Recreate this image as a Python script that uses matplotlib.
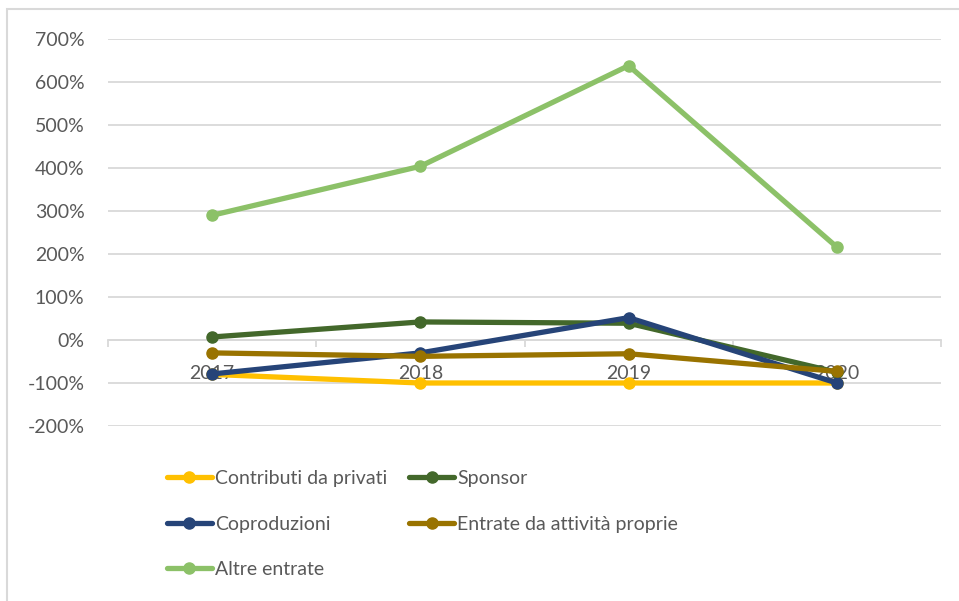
import matplotlib
matplotlib.use("Agg")
import matplotlib.pyplot as plt
from matplotlib.ticker import FuncFormatter, FixedLocator
from matplotlib.patches import Rectangle

years = ["2017", "2018", "2019", "2020"]
contributi_privati = [-80, -100, -100, -100]
sponsor = [7, 42, 39, -75]
coproduzioni = [-79, -30, 52, -100]
entrate_attivita = [-30, -38, -32, -73]
altre_entrate = [290, 404, 638, 216]

series_names = ["Contributi da privati", "Sponsor", "Coproduzioni",
                "Entrate da attività proprie", "Altre entrate"]
series_values = [contributi_privati, sponsor, coproduzioni, entrate_attivita, altre_entrate]
colors = ["#FFC000", "#43682B", "#264478", "#997300", "#8CC168"]
yticks = [-200, -100, 0, 100, 200, 300, 400, 500, 600, 700]

plt.rcParams['font.family'] = ['Lato', 'DejaVu Sans']
text_color = "#595959"
grid_color = "#D9D9D9"

fig = plt.figure(figsize=(9.59, 6.01), dpi=100)
fig.patches.append(Rectangle((7/959, -0.1), 1.2, 1 - 9/601 + 0.1, transform=fig.transFigure,
                             fill=False, edgecolor=grid_color, linewidth=1.5))
ax = fig.add_axes([108/959, 1 - 426/601, (941-108)/959, (426-39)/601])

x = list(range(len(years)))
lines = []
for name, vals, c in zip(series_names, series_values, colors):
    ln, = ax.plot(x, vals, color=c, linewidth=3.8, marker='o', markersize=8,
                  solid_capstyle='round', label=name, zorder=3)
    lines.append(ln)

ax.set_xlim(-0.5, 3.5)
ax.set_ylim(-200, 700)
ax.set_yticks(yticks)
ax.yaxis.set_major_formatter(FuncFormatter(lambda v, p: f"{int(v)}%"))
ax.grid(axis='y', color=grid_color, linewidth=1.3, zorder=0)
for s in ['top', 'right', 'left']:
    ax.spines[s].set_visible(False)
ax.spines['bottom'].set_position(('data', 0))
ax.spines['bottom'].set_color(grid_color)
ax.spines['bottom'].set_linewidth(1.3)
ax.set_xticks(x)
ax.set_xticklabels(years)
ax.xaxis.set_minor_locator(FixedLocator([-0.5, 0.5, 1.5, 2.5, 3.5]))
ax.tick_params(axis='x', which='major', length=0, pad=18, labelsize=14, labelcolor=text_color)
ax.tick_params(axis='x', which='minor', length=5, width=1.3, color=grid_color, direction='out')
ax.tick_params(axis='y', length=0, pad=17, labelsize=14, labelcolor=text_color)
for lab in ax.get_xticklabels():
    lab.set_zorder(5)

# row-wise legend order for 2 columns
order = [0, 2, 4, 1, 3]
leg = fig.legend(handles=[lines[i] for i in order], ncol=2, loc='upper left',
                 bbox_to_anchor=(167/959, 1 - 470/601), frameon=False,
                 fontsize=14, handlelength=2.3, handletextpad=0.15,
                 labelspacing=1.47, columnspacing=1.15, borderaxespad=0, borderpad=0)
for t in leg.get_texts():
    t.set_color(text_color)

fig.savefig("out.png", dpi=100)
